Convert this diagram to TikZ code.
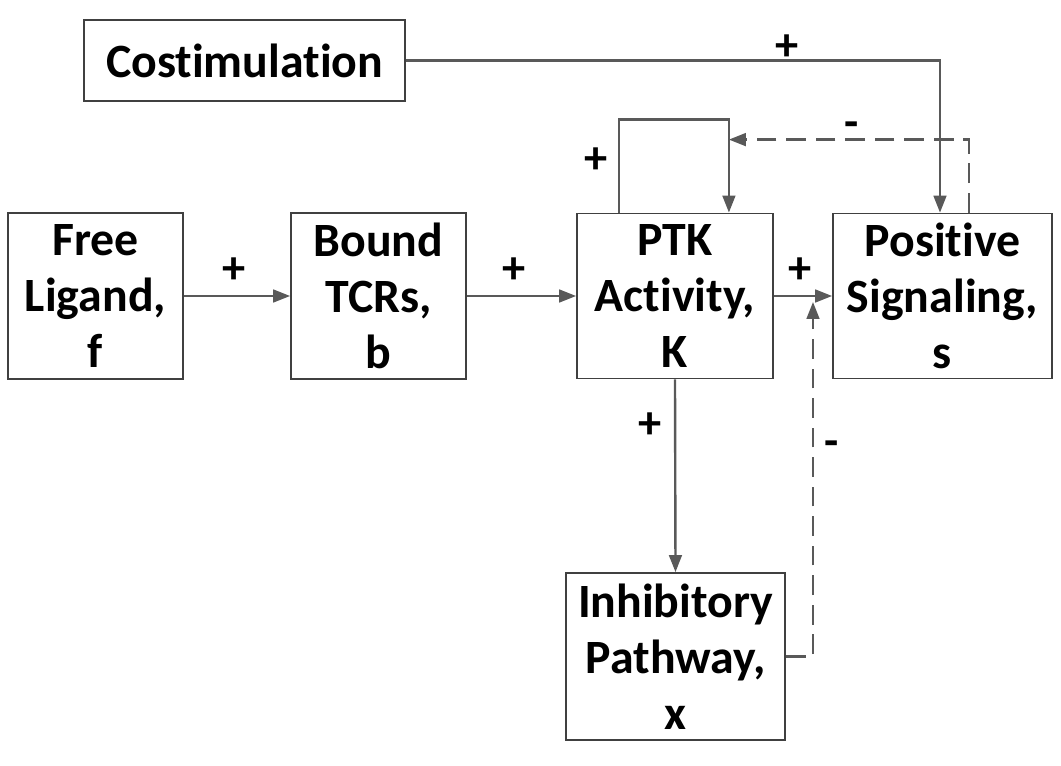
\documentclass[tikz,border=0pt]{standalone}
\usepackage{fontspec}
\setmainfont{Carlito}[Ligatures={NoCommon}]
\usepackage{tikz}
\usetikzlibrary{calc, arrows.meta, positioning}
\definecolor{lineGray}{HTML}{595959}
\definecolor{boxGray}{HTML}{404040}

\tikzset{
    block/.style={draw=boxGray, line width=1.3pt, align=center, inner sep=0pt,
        font=\fontsize{34}{40}\selectfont\bfseries},
    arr/.style={draw=lineGray, line width=1.7pt, -{Triangle[length=12pt, width=9pt]}},
    fb/.style={arr, dash pattern=on 14pt off 7pt},
    sign/.style={font=\fontsize{33}{36}\selectfont\bfseries}
}

\begin{document}
\begin{tikzpicture}[x=0.025cm, y=-0.025cm]
    \useasboundingbox (0,0) rectangle (1061,765);

    % blocks
    \node[block, minimum width=321*0.025cm, minimum height=81*0.025cm] (cost) at (244.5, 60.5) {Costimulation};
    \node[block, minimum width=175*0.025cm, minimum height=166*0.025cm] (free) at (95.5, 296) {Free\\Ligand,\\f};
    \node[block, minimum width=175*0.025cm, minimum height=166*0.025cm] (bound) at (378.5, 296) {Bound\\TCRs,\\b};
    \node[block, minimum width=196*0.025cm, minimum height=165*0.025cm] (ptk) at (675, 296) {PTK\\Activity,\\K};
    \node[block, minimum width=219*0.025cm, minimum height=165*0.025cm] (pos) at (942.5, 296) {Positive\\Signaling,\\s};
    \node[block, minimum width=219*0.025cm, minimum height=167*0.025cm] (inhib) at (675.5, 656.5) {Inhibitory\\Pathway,\\x};

    % forward chain
    \draw[arr] (free) -- (bound);
    \draw[arr] (bound) -- (ptk);
    \draw[arr] (ptk) -- (pos);
    \draw[arr] (ptk.south) -- (inhib.north);

    % costimulation
    \coordinate (costIn) at ($(pos.north)+(-2.5,0)$);
    \draw[arr] (cost.east) -| (costIn);

    % self loop on PTK
    \coordinate (loopL) at ($(ptk.north west)+(43,0)$);
    \coordinate (loopR) at ($(ptk.north east)+(-45,0)$);
    \draw[arr] (loopL) -- ++(0,-93) -| (loopR);

    % negative feedbacks
    \coordinate (fbS) at ($(pos.north west)+(137,0)$);
    \draw[fb] (fbS) |- ($(loopR)+(0,-73)$);
    \coordinate (inhT) at ($(ptk.east)!0.5!(pos.west)+(10,6)$);
    \draw[fb] (inhib.east) -| (inhT);

    % signs
    \node[sign] (s1) at (234, 271) {+};
    \node[sign] (s2) at (514, 271) {+};
    \node[sign] (s3) at (800, 271) {+};
    \node[sign] (s4) at (596, 161) {+};
    \node[sign] (s5) at (787, 48) {+};
    \node[sign] (s6) at (650, 426) {+};
    \node[sign] (s7) at (852, 130) {-};
    \node[sign] (s8) at (832, 449) {-};
\end{tikzpicture}
\end{document}
